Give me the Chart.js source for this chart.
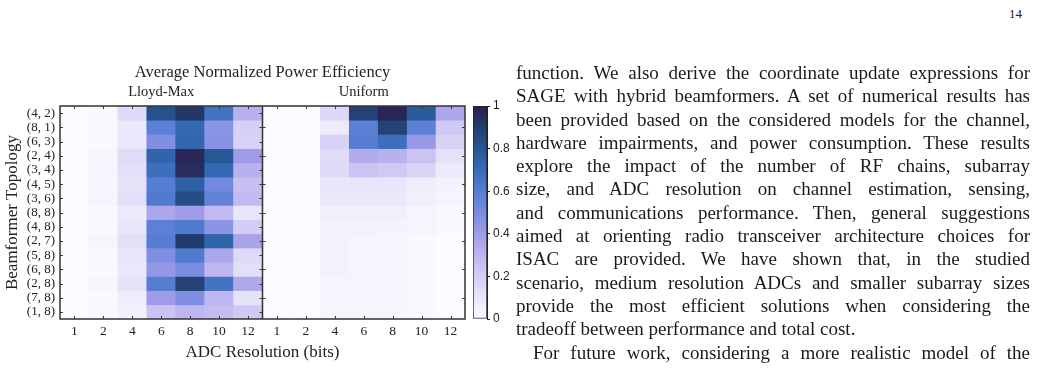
<!DOCTYPE html>
<html>
<head>
<meta charset="utf-8">
<script src="https://cdn.jsdelivr.net/npm/chart.js"></script>
<style>
  body { margin: 0; width: 1042px; height: 376px; background: #fff; position: relative; overflow: hidden; }
  #heat { position: absolute; left: 0; top: 0; }
  #cbar { position: absolute; left: 466px; top: 0; }
  #page { position: absolute; left: 1009px; top: 6px; font: 13px "Liberation Serif", serif; color: #222; }
  #text { position: absolute; left: 516px; top: 61px; width: 514px; font: 19px "Liberation Serif", serif; color: #1a1a1a; }
  .ln { height: 23.3px; line-height: 23.3px; text-align: justify; text-align-last: justify; white-space: nowrap; }
  .ln.last { text-align-last: left; }
  .ln.ind { padding-left: 17px; }
</style>
</head>
<body>
<canvas id="heat" width="525" height="376"></canvas>
<canvas id="cbar" width="59" height="376"></canvas>
<div id="page">14</div>
<div id="text">
  <div class="ln">function. We also derive the coordinate update expressions for</div>
  <div class="ln">SAGE with hybrid beamformers. A set of numerical results has</div>
  <div class="ln">been provided based on the considered models for the channel,</div>
  <div class="ln">hardware impairments, and power consumption. These results</div>
  <div class="ln">explore the impact of the number of RF chains, subarray</div>
  <div class="ln">size, and ADC resolution on channel estimation, sensing,</div>
  <div class="ln">and communications performance. Then, general suggestions</div>
  <div class="ln">aimed at orienting radio transceiver architecture choices for</div>
  <div class="ln">ISAC are provided. We have shown that, in the studied</div>
  <div class="ln">scenario, medium resolution ADCs and smaller subarray sizes</div>
  <div class="ln">provide the most efficient solutions when considering the</div>
  <div class="ln last">tradeoff between performance and total cost.</div>
  <div class="ln ind">For future work, considering a more realistic model of the</div>
</div>
<script>
// Axis categories
const adcBits = ['1', '2', '4', '6', '8', '10', '12'];
const topologies = ['(4, 2)', '(8, 1)', '(6, 3)', '(2, 4)', '(3, 4)', '(4, 5)', '(3, 6)', '(8, 8)',
                    '(4, 8)', '(2, 7)', '(5, 8)', '(6, 8)', '(2, 8)', '(7, 8)', '(1, 8)'];
const panels = ['Lloyd-Max', 'Uniform'];
const cbarTicks = [0, 0.2, 0.4, 0.6, 0.8, 1];

// Normalized power efficiency, one row per topology, columns = ADC bits
const lloydMax = [
  [0.01, 0.02, 0.15, 0.82, 0.92, 0.66, 0.32],
  [0.01, 0.02, 0.09, 0.58, 0.72, 0.45, 0.19],
  [0.01, 0.02, 0.09, 0.48, 0.73, 0.46, 0.18],
  [0.01, 0.03, 0.14, 0.74, 0.97, 0.80, 0.40],
  [0.01, 0.03, 0.13, 0.68, 0.95, 0.72, 0.32],
  [0.01, 0.03, 0.12, 0.60, 0.76, 0.52, 0.26],
  [0.01, 0.03, 0.13, 0.62, 0.84, 0.57, 0.28],
  [0.01, 0.02, 0.08, 0.36, 0.40, 0.28, 0.10],
  [0.01, 0.02, 0.10, 0.58, 0.62, 0.45, 0.20],
  [0.01, 0.03, 0.13, 0.60, 0.90, 0.74, 0.37],
  [0.01, 0.02, 0.10, 0.48, 0.62, 0.36, 0.15],
  [0.01, 0.02, 0.09, 0.43, 0.50, 0.30, 0.13],
  [0.01, 0.03, 0.12, 0.60, 0.88, 0.66, 0.35],
  [0.01, 0.02, 0.07, 0.40, 0.48, 0.30, 0.11],
  [0.01, 0.02, 0.05, 0.24, 0.30, 0.27, 0.22]
];
const uniform = [
  [0.01, 0.01, 0.16, 0.88, 0.98, 0.78, 0.36],
  [0.01, 0.01, 0.08, 0.58, 0.88, 0.58, 0.22],
  [0.01, 0.01, 0.18, 0.60, 0.68, 0.42, 0.18],
  [0.01, 0.01, 0.14, 0.34, 0.32, 0.24, 0.12],
  [0.01, 0.01, 0.15, 0.24, 0.22, 0.17, 0.08],
  [0.01, 0.01, 0.10, 0.11, 0.10, 0.07, 0.04],
  [0.01, 0.01, 0.09, 0.09, 0.09, 0.06, 0.03],
  [0.01, 0.01, 0.06, 0.06, 0.06, 0.03, 0.02],
  [0.01, 0.01, 0.05, 0.05, 0.04, 0.03, 0.02],
  [0.01, 0.01, 0.04, 0.03, 0.03, 0.02, 0.01],
  [0.01, 0.01, 0.04, 0.03, 0.03, 0.02, 0.01],
  [0.01, 0.01, 0.04, 0.03, 0.03, 0.02, 0.01],
  [0.01, 0.01, 0.03, 0.03, 0.03, 0.02, 0.01],
  [0.01, 0.01, 0.03, 0.03, 0.03, 0.02, 0.01],
  [0.01, 0.01, 0.03, 0.03, 0.03, 0.02, 0.01]
];

// Colormap
const cmapStops = [0, 0.1, 0.2, 0.3, 0.4, 0.5, 0.6, 0.7, 0.8, 0.9, 1];
const cmapColors = [
  [252, 252, 255], [232, 230, 250], [212, 206, 245], [190, 182, 240], [160, 155, 232],
  [120, 140, 225], [85, 125, 210], [55, 108, 185], [38, 88, 150], [35, 60, 110], [43, 31, 79]
];

function colorFor(v) {
  v = Math.max(0, Math.min(1, v));
  let i = 0;
  while (i < cmapStops.length - 2 && v > cmapStops[i + 1]) i++;
  const t = (v - cmapStops[i]) / (cmapStops[i + 1] - cmapStops[i]);
  const a = cmapColors[i], b = cmapColors[i + 1];
  const c = a.map((x, k) => Math.round(x + (b[k] - x) * t));
  return `rgb(${c[0]}, ${c[1]}, ${c[2]})`;
}

const serif = '"Liberation Serif", "DejaVu Serif", serif';
const ink = '#222';
const xLabels = adcBits.concat(adcBits);

// one floating-bar dataset per topology row, spanning both panels
const datasets = topologies.map((t, r) => ({
  label: t,
  data: xLabels.map(() => [r, r + 1]),
  backgroundColor: lloydMax[r].concat(uniform[r]).map(colorFor),
  borderWidth: 0,
  grouped: false,
  barPercentage: 1,
  categoryPercentage: 1
}));

// axes frame, panel divider and inward ticks
const framePlugin = {
  id: 'frame',
  afterDatasetsDraw(chart) {
    const { ctx, chartArea: a, scales } = chart;
    const x = scales.x, y = scales.y;
    const mid = (x.getPixelForValue(6) + x.getPixelForValue(7)) / 2;
    ctx.save();
    ctx.strokeStyle = '#3a3a3a';
    ctx.lineWidth = 1;
    ctx.beginPath();
    xLabels.forEach((_, i) => {
      const px = Math.round(x.getPixelForValue(i)) + 0.5;
      ctx.moveTo(px, a.top); ctx.lineTo(px, a.top + 3);
      ctx.moveTo(px, a.bottom); ctx.lineTo(px, a.bottom - 3);
    });
    topologies.forEach((_, r) => {
      const py = Math.round(y.getPixelForValue(r + 0.5)) + 0.5;
      ctx.moveTo(a.left, py); ctx.lineTo(a.left + 3, py);
      ctx.moveTo(mid, py); ctx.lineTo(mid - 3, py);
      if (r % 2 === 1) {
        ctx.moveTo(mid, py); ctx.lineTo(mid + 3, py);
        ctx.moveTo(a.right, py); ctx.lineTo(a.right - 3, py);
      }
    });
    ctx.stroke();
    ctx.lineWidth = 1.5;
    ctx.strokeStyle = '#333';
    ctx.strokeRect(a.left, a.top, a.right - a.left, a.bottom - a.top);
    ctx.beginPath();
    ctx.moveTo(mid, a.top); ctx.lineTo(mid, a.bottom);
    ctx.stroke();
    ctx.restore();
  }
};

new Chart(document.getElementById('heat'), {
  type: 'bar',
  data: { labels: xLabels, datasets: datasets },
  options: {
    responsive: false,
    animation: false,
    layout: { padding: { left: 0, right: 60, top: 63, bottom: 13 } },
    plugins: { legend: { display: false }, tooltip: { enabled: false } },
    scales: {
      x: {
        type: 'category',
        offset: true,
        grid: { display: false, drawTicks: false },
        border: { display: false },
        ticks: { font: { family: serif, size: 13.5 }, color: ink, padding: 4, autoSkip: false, maxRotation: 0 },
        title: { display: true, text: 'ADC Resolution (bits)', font: { family: serif, size: 17 }, color: ink, padding: { top: 0, bottom: 0 } },
        afterFit: s => { s.height = 44; }
      },
      x2: {
        type: 'category',
        position: 'top',
        labels: panels,
        offset: true,
        grid: { display: false, drawTicks: false },
        border: { display: false },
        ticks: { font: { family: serif, size: 14.5 }, color: ink, padding: 5 },
        title: { display: true, text: 'Average Normalized Power Efficiency', font: { family: serif, size: 16.5 }, color: ink, padding: { top: 0, bottom: 0 } },
        afterFit: s => { s.height = 43; }
      },
      y: {
        type: 'linear',
        min: 0,
        max: 15,
        reverse: true,
        grid: { display: false, drawTicks: false },
        border: { display: false },
        afterBuildTicks: s => { s.ticks = topologies.map((_, i) => ({ value: i + 0.5 })); },
        ticks: { autoSkip: false, font: { family: serif, size: 13 }, color: ink, padding: 5, callback: (v, i) => topologies[i] },
        title: { display: true, text: 'Beamformer Topology', font: { family: serif, size: 17 }, color: ink, padding: { top: 2, bottom: 0 } },
        afterFit: s => { s.width = 60; }
      }
    }
  },
  plugins: [framePlugin]
});

// colorbar
new Chart(document.getElementById('cbar'), {
  type: 'bar',
  data: {
    labels: [''],
    datasets: [{
      data: [[0, 1]],
      backgroundColor: ctx => {
        const { ctx: c, chartArea } = ctx.chart;
        if (!chartArea) return null;
        const g = c.createLinearGradient(0, chartArea.bottom, 0, chartArea.top);
        cmapStops.forEach(s => g.addColorStop(s, colorFor(s)));
        return g;
      },
      borderColor: '#222',
      borderWidth: 1,
      borderSkipped: false,
      barPercentage: 1,
      categoryPercentage: 1
    }]
  },
  options: {
    responsive: false,
    animation: false,
    layout: { padding: { left: 7, right: 0, top: 106, bottom: 57 } },
    plugins: { legend: { display: false }, tooltip: { enabled: false } },
    scales: {
      x: { display: false },
      y: {
        position: 'right',
        min: 0,
        max: 1,
        afterBuildTicks: s => { s.ticks = cbarTicks.map(v => ({ value: v })); },
        ticks: { font: { family: '"Liberation Sans", Arial, sans-serif', size: 12 }, color: ink, padding: 3, callback: v => String(+v.toFixed(1)) },
        grid: { drawOnChartArea: false, drawTicks: true, tickLength: 3, color: '#222' },
        border: { display: true, color: '#222' },
        afterFit: s => { s.width = 38; }
      }
    }
  }
});
</script>
</body>
</html>
